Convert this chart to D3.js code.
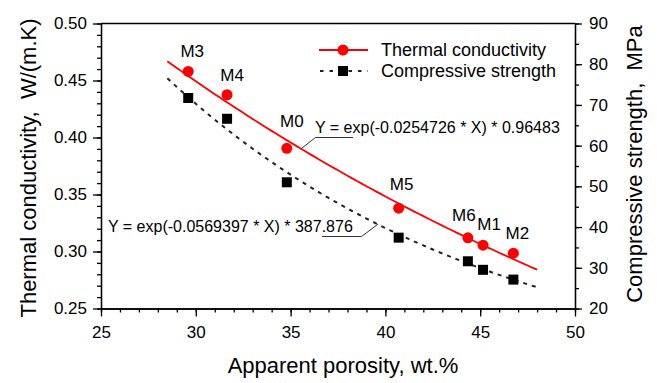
<!DOCTYPE html>
<html>
<head>
<meta charset="utf-8">
<script src="https://cdn.jsdelivr.net/npm/d3@7"></script>
<style>
  body { margin: 0; background: #fff; }
  svg { display: block; font-family: "Liberation Sans", Arial, sans-serif; }
</style>
</head>
<body>
<div id="chart"></div>
<script>
// sample names, porosity (x), thermal conductivity (left axis), compressive strength (right axis)
var samples = ['M3', 'M4', 'M0', 'M5', 'M6', 'M1', 'M2']
var porosity = [29.6, 31.65, 34.8, 40.7, 44.35, 45.15, 46.75]
var conductivity = [0.458, 0.4375, 0.3905, 0.338, 0.312, 0.3055, 0.2985]
var strength = [71.7, 66.6, 51.0, 37.4, 31.6, 29.5, 27.1]

// fitted exponentials as printed on the chart: Y = exp(k * X) * a
var tcFit = { k: -0.0254726, a: 0.96483, label: 'Y = exp(-0.0254726 * X) * 0.96483' }
var csFit = { k: -0.0569397, a: 387.876, label: 'Y = exp(-0.0569397 * X) * 387.876' }
var fitRange = [28.5, 48.05]

var xTicks = [25, 30, 35, 40, 45, 50]
var leftTicks = [0.25, 0.30, 0.35, 0.40, 0.45, 0.50]
var rightTicks = [20, 30, 40, 50, 60, 70, 80, 90]

var width = 657
var height = 383
// plot box edges (note: "top" is taken by window.top, so prefix them)
var plotL = 101, plotR = 575, plotT = 23.5, plotB = 308.5

var x = d3.scaleLinear().domain([25, 50]).range([plotL, plotR])
var yL = d3.scaleLinear().domain([0.25, 0.5]).range([plotB, plotT])
var yR = d3.scaleLinear().domain([20, 90]).range([plotB, plotT])

var svg = d3.select('#chart').append('svg')
  .attr('width', width)
  .attr('height', height)

// minor ticks first, majors on top
svg.append('g')
  .attr('transform', 'translate(0,' + plotB + ')')
  .call(d3.axisBottom(x).tickValues(d3.range(25, 51, 1)).tickSize(4).tickSizeOuter(0).tickFormat(''))
svg.append('g')
  .attr('transform', 'translate(' + plotL + ',0)')
  .call(d3.axisLeft(yL).tickValues(d3.range(25, 51, 1).map(function (d) { return d / 100 })).tickSize(4).tickSizeOuter(0).tickFormat(''))
svg.append('g')
  .attr('transform', 'translate(' + plotR + ',0)')
  .call(d3.axisRight(yR).tickValues(d3.range(20, 91, 5)).tickSize(4).tickSizeOuter(0).tickFormat(''))

svg.append('g')
  .attr('class', 'major')
  .attr('transform', 'translate(0,' + plotB + ')')
  .call(d3.axisBottom(x).tickValues(xTicks).tickSize(8).tickSizeOuter(0).tickPadding(9).tickFormat(d3.format('d')))
svg.append('g')
  .attr('class', 'major')
  .attr('transform', 'translate(' + plotL + ',0)')
  .call(d3.axisLeft(yL).tickValues(leftTicks).tickSize(8).tickSizeOuter(0).tickPadding(6).tickFormat(d3.format('.2f')))
svg.append('g')
  .attr('class', 'major')
  .attr('transform', 'translate(' + plotR + ',0)')
  .call(d3.axisRight(yR).tickValues(rightTicks).tickSize(7).tickSizeOuter(0).tickPadding(7).tickFormat(d3.format('d')))

svg.selectAll('.domain, .tick line').attr('stroke', '#000').attr('stroke-width', 1.3)
svg.selectAll('.major .tick text').attr('font-size', 17).attr('fill', '#000')
  .attr('font-family', '"Liberation Sans", Arial, sans-serif')

// top frame line
svg.append('line')
  .attr('x1', plotL).attr('x2', plotR)
  .attr('y1', plotT).attr('y2', plotT)
  .attr('stroke', '#000').attr('stroke-width', 1.3)

// axis titles
svg.append('text')
  .attr('x', 343).attr('y', 373)
  .attr('text-anchor', 'middle').attr('font-size', 22)
  .text('Apparent porosity, wt.%')
svg.append('text')
  .attr('transform', 'translate(36,168) rotate(-90)')
  .attr('text-anchor', 'middle').attr('font-size', 22)
  .attr('xml:space', 'preserve')
  .text('Thermal conductivity,  W/(m.K)')
svg.append('text')
  .attr('transform', 'translate(642,164) rotate(-90)')
  .attr('text-anchor', 'middle').attr('font-size', 22)
  .attr('xml:space', 'preserve')
  .text('Compressive strength,  MPa')

// fit curves
function fitPoints (fit) {
  return d3.range(fitRange[0], fitRange[1] + 0.01, 0.25).map(function (v) {
    return [v, Math.exp(fit.k * v) * fit.a]
  })
}

svg.append('path')
  .datum(fitPoints(tcFit))
  .attr('fill', 'none').attr('stroke', '#ff0000').attr('stroke-width', 1.8)
  .attr('d', d3.line().x(function (d) { return x(d[0]) }).y(function (d) { return yL(d[1]) }))

svg.append('path')
  .datum(fitPoints(csFit))
  .attr('fill', 'none').attr('stroke', '#222').attr('stroke-width', 2)
  .attr('stroke-dasharray', '4,5')
  .attr('d', d3.line().x(function (d) { return x(d[0]) }).y(function (d) { return yR(d[1]) }))

// points
svg.selectAll('circle.tc')
  .data(samples)
  .enter().append('circle')
  .attr('class', 'tc')
  .attr('cx', function (d, i) { return x(porosity[i]) })
  .attr('cy', function (d, i) { return yL(conductivity[i]) })
  .attr('r', 5.5)
  .attr('fill', '#ff0000')

svg.selectAll('rect.cs')
  .data(samples)
  .enter().append('rect')
  .attr('class', 'cs')
  .attr('x', function (d, i) { return x(porosity[i]) - 5 })
  .attr('y', function (d, i) { return yR(strength[i]) - 5 })
  .attr('width', 10).attr('height', 10)
  .attr('fill', '#000')

// sample labels, nudged like the original
var labelShift = { M3: [4, -14], M4: [5, -14], M0: [5, -21], M5: [3, -18], M6: [-4, -16.5], M1: [6, -15], M2: [4, -14] }
svg.selectAll('text.lab')
  .data(samples)
  .enter().append('text')
  .attr('class', 'lab')
  .attr('x', function (d, i) { return x(porosity[i]) + labelShift[d][0] })
  .attr('y', function (d, i) { return yL(conductivity[i]) + labelShift[d][1] })
  .attr('text-anchor', 'middle').attr('font-size', 17)
  .text(function (d) { return d })

// equation labels with leader lines
svg.append('text')
  .attr('x', 315).attr('y', 133)
  .attr('font-size', 16)
  .text(tcFit.label)
var tcAnchor = 35.55
svg.append('polyline')
  .attr('points', [[353, 137.5], [315.5, 137.5], [x(tcAnchor), yL(Math.exp(tcFit.k * tcAnchor) * tcFit.a)]].join(' '))
  .attr('fill', 'none').attr('stroke', '#333').attr('stroke-width', 1)

svg.append('text')
  .attr('x', 108).attr('y', 232)
  .attr('font-size', 16)
  .text(csFit.label)
var csAnchor = 39.6
svg.append('polyline')
  .attr('points', [[322, 236.5], [361.5, 236.5], [x(csAnchor), yR(Math.exp(csFit.k * csAnchor) * csFit.a)]].join(' '))
  .attr('fill', 'none').attr('stroke', '#333').attr('stroke-width', 1)

// legend
var legend = svg.append('g')
legend.append('line')
  .attr('x1', 319).attr('x2', 368).attr('y1', 50).attr('y2', 50)
  .attr('stroke', '#ff0000').attr('stroke-width', 1.8)
legend.append('circle')
  .attr('cx', 343).attr('cy', 50).attr('r', 5.5).attr('fill', '#ff0000')
legend.append('text')
  .attr('x', 381).attr('y', 56).attr('font-size', 18)
  .text('Thermal conductivity')

legend.append('line')
  .attr('x1', 320).attr('x2', 368).attr('y1', 71).attr('y2', 71)
  .attr('stroke', '#222').attr('stroke-width', 2).attr('stroke-dasharray', '3.5,6')
legend.append('rect')
  .attr('x', 338).attr('y', 66).attr('width', 10).attr('height', 10).attr('fill', '#000')
legend.append('text')
  .attr('x', 381).attr('y', 77).attr('font-size', 18)
  .text('Compressive strength')
</script>
</body>
</html>
